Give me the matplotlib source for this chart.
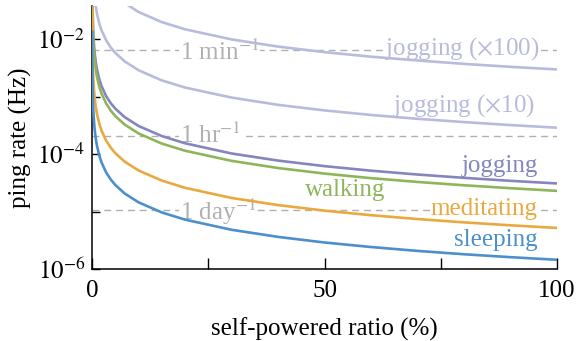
import matplotlib
matplotlib.use('Agg')
from matplotlib import pyplot as plt
from matplotlib.ticker import FixedLocator, NullFormatter

plt.rcParams['font.family'] = ['Liberation Serif', 'DejaVu Serif']
plt.rcParams['mathtext.fontset'] = 'stix'
plt.rcParams['font.size'] = 18

# self-powered ratio (%) sample points
ratio = [0.01, 0.02, 0.05, 0.1, 0.2, 0.3, 0.5, 0.75, 1, 1.5, 2, 3, 4, 5, 7,
         10, 15, 20, 30, 40, 50, 60, 70, 80, 90, 100]

# ping rate (Hz) per activity
jogging_x100 = [30, 15, 6, 3, 1.5, 1.0, 0.6, 0.4, 0.3, 0.2, 0.15, 0.1, 0.075,
                0.06, 0.043, 0.03, 0.02, 0.015, 0.01, 7.5e-3, 6.0e-3, 5.0e-3,
                4.3e-3, 3.75e-3, 3.33e-3, 3.0e-3]
jogging_x10 = [2.9, 1.45, 0.58, 0.29, 0.145, 0.097, 0.058, 0.039, 0.029,
               0.0193, 0.0145, 0.0097, 0.00725, 0.0058, 0.00414, 0.0029,
               0.00193, 0.00145, 9.7e-4, 7.25e-4, 5.8e-4, 4.83e-4, 4.14e-4,
               3.63e-4, 3.22e-4, 2.9e-4]
jogging = [0.31, 0.155, 0.062, 0.031, 0.0155, 0.0103, 0.0062, 0.00413, 0.0031,
           0.00207, 0.00155, 0.00103, 7.75e-4, 6.2e-4, 4.43e-4, 3.1e-4,
           2.07e-4, 1.55e-4, 1.03e-4, 7.75e-5, 6.2e-5, 5.17e-5, 4.43e-5,
           3.88e-5, 3.44e-5, 3.1e-5]
walking = [0.23, 0.115, 0.046, 0.023, 0.0115, 0.00767, 0.0046, 0.00307, 0.0023,
           0.00153, 0.00115, 7.67e-4, 5.75e-4, 4.6e-4, 3.29e-4, 2.3e-4,
           1.53e-4, 1.15e-4, 7.67e-5, 5.75e-5, 4.6e-5, 3.83e-5, 3.29e-5,
           2.88e-5, 2.56e-5, 2.3e-5]
meditating = [0.052, 0.026, 0.0104, 0.0052, 0.0026, 0.00173, 0.00104, 6.93e-4,
              5.2e-4, 3.47e-4, 2.6e-4, 1.73e-4, 1.3e-4, 1.04e-4, 7.43e-5,
              5.2e-5, 3.47e-5, 2.6e-5, 1.73e-5, 1.3e-5, 1.04e-5, 8.67e-6,
              7.43e-6, 6.5e-6, 5.78e-6, 5.2e-6]
sleeping = [0.0145, 0.00725, 0.0029, 0.00145, 7.25e-4, 4.83e-4, 2.9e-4,
            1.93e-4, 1.45e-4, 9.67e-5, 7.25e-5, 4.83e-5, 3.63e-5, 2.9e-5,
            2.07e-5, 1.45e-5, 9.67e-6, 7.25e-6, 4.83e-6, 3.63e-6, 2.9e-6,
            2.42e-6, 2.07e-6, 1.81e-6, 1.61e-6, 1.45e-6]

# reference rates (dashed lines) as placed in the picture
ref_rates = [6.6e-3, 2.1e-4, 1.05e-5]
ref_labels = [r'1 min$^{-1}$', r'1 hr$^{-1}$', r'1 day$^{-1}$']
ref_label_y = [4.4e-3, 1.6e-4, 7.2e-6]

curves = [
    (jogging_x100, '#b9bbdd', r'jogging ($\times$100)', 96.3, 5.4e-3, 'right'),
    (jogging_x10, '#b9bbdd', r'jogging ($\times$10)', 95.3, 5.5e-4, 'right'),
    (jogging, '#8585bf', 'jogging', 95.9, 5.0e-5, 'right'),
    (walking, '#8fb55b', 'walking', 45.8, 1.85e-5, 'left'),
    (meditating, '#e9a93f', 'meditating', 95.9, 8.9e-6, 'right'),
    (sleeping, '#4b8fcb', 'sleeping', 95.9, 2.57e-6, 'right'),
]

fig = plt.figure(figsize=(5.76, 3.41), dpi=100)
ax = fig.add_axes([0.16, 0.211, 0.807, 0.771])
ax.set_yscale('log')

gray = '#b0b0b0'
for rate, lab, ly in zip(ref_rates, ref_labels, ref_label_y):
    ax.axhline(rate, color=gray, lw=1.0, ls=(0, (5, 3.5)), zorder=1)
    ax.text(18.9, ly, lab, color=gray, ha='left', va='baseline', zorder=2,
            bbox=dict(facecolor='white', edgecolor='none', pad=0.5))

# curve labels sit on white boxes that hide the dashed lines, but the
# curves themselves are drawn on top
for vals, col, lab, lx, ly, ha in curves:
    ax.plot(ratio, vals, color=col, lw=1.9, zorder=3, solid_capstyle='butt')
    ax.text(lx, ly, lab, color=col, ha=ha, va='baseline', zorder=2,
            bbox=dict(facecolor='white', edgecolor='none', pad=0.3))

ax.set_xlim(0, 100)
ax.set_ylim(1e-6, 0.038)

ax.set_xticks([0, 25, 50, 75, 100])
ax.set_xticklabels(['0', '', '50', '', '100'])
ax.yaxis.set_major_locator(FixedLocator([1e-6, 1e-4, 1e-2]))
ax.set_yticklabels([r'$10^{-6}$', r'$10^{-4}$', r'$10^{-2}$'])
ax.yaxis.set_minor_locator(FixedLocator([1e-5, 1e-3]))
ax.yaxis.set_minor_formatter(NullFormatter())

ax.tick_params(axis='x', which='both', direction='in', length=8, width=1.0,
               pad=8)
ax.tick_params(axis='y', which='both', direction='in', length=6, width=1.0,
               pad=5)

for side in ['top', 'right']:
    ax.spines[side].set_visible(False)
for side in ['left', 'bottom']:
    ax.spines[side].set_linewidth(1.1)

ax.set_xlabel('self-powered ratio (%)', labelpad=11)
ax.set_ylabel('ping rate (Hz)', labelpad=4)

plt.savefig('out.png', dpi=100)
plt.close()
